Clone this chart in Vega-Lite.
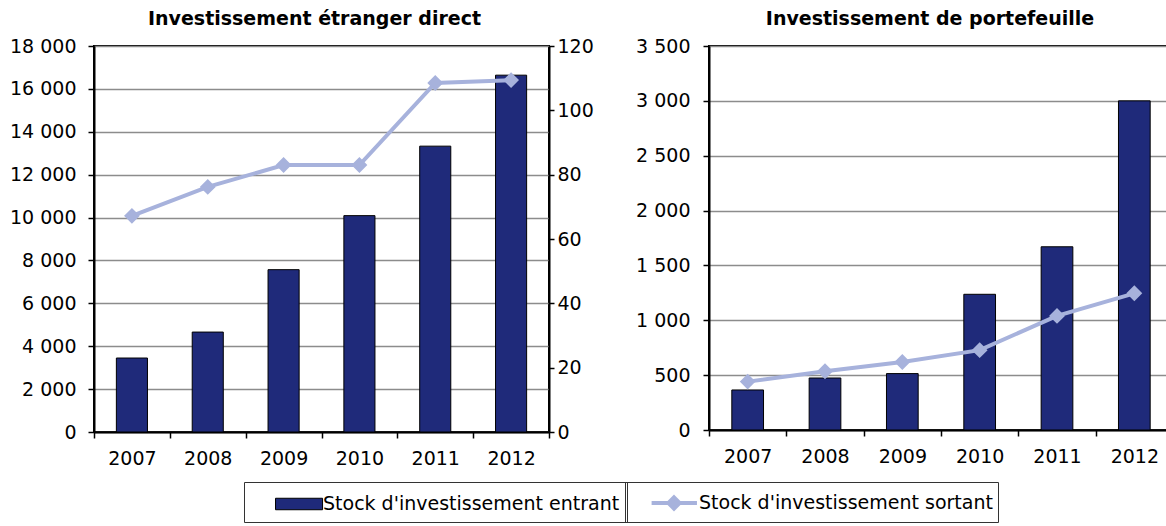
{
  "$schema": "https://vega.github.io/schema/vega-lite/v6.json",
  "padding": {"left": 8, "top": 9, "right": 0, "bottom": 0},
  "background": "white",
  "datasets": {
    "ied": [
      {"annee": "2007", "entrant": 3450, "sortant": 67.2},
      {"annee": "2008", "entrant": 4660, "sortant": 76.2},
      {"annee": "2009", "entrant": 7570, "sortant": 83.0},
      {"annee": "2010", "entrant": 10090, "sortant": 83.0},
      {"annee": "2011", "entrant": 13330, "sortant": 108.5},
      {"annee": "2012", "entrant": 16640, "sortant": 109.4}
    ],
    "portefeuille": [
      {"annee": "2007", "entrant": 365, "sortant": 441},
      {"annee": "2008", "entrant": 474, "sortant": 536},
      {"annee": "2009", "entrant": 514, "sortant": 620},
      {"annee": "2010", "entrant": 1237, "sortant": 728},
      {"annee": "2011", "entrant": 1670, "sortant": 1040},
      {"annee": "2012", "entrant": 3000, "sortant": 1246}
    ]
  },
  "spacing": 39,
  "hconcat": [
    {
      "width": 455,
      "height": 386,
      "title": {"text": "Investissement étranger direct", "offset": 8, "dx": -7},
      "data": {"name": "ied"},
      "layer": [
        {
          "mark": {"type": "bar", "stroke": "black", "strokeWidth": 1, "width": {"band": 0.41}},
          "encoding": {
            "x": {"field": "annee", "type": "ordinal", "scale": {"paddingInner": 0, "paddingOuter": 0},
                  "axis": {"title": null, "labelAngle": 0, "tickBand": "extent", "tickSize": 6, "labelPadding": 11, "grid": false}},
            "y": {"field": "entrant", "type": "quantitative", "scale": {"domain": [0, 18000], "nice": false},
                  "axis": {"title": null, "values": [0, 2000, 4000, 6000, 8000, 10000, 12000, 14000, 16000, 18000], "format": ",d", "tickSize": 6, "labelPadding": 12, "grid": true}},
            "fill": {"datum": "Stock d'investissement entrant", "type": "nominal",
                     "scale": {"domain": ["Stock d'investissement entrant"], "range": ["#1F2A7A"]},
                     "legend": {
                       "orient": "none", "legendX": 150, "legendY": 436, "title": null,
                       "strokeColor": "#333333", "padding": 7.5, "labelFontSize": 19, "labelFont": "DejaVu Sans",
                       "labelColor": "black", "labelOffset": 42.5, "labelLimit": 500, "symbolSize": 784,
                       "symbolType": "M0.68,-0.41H4.04V0.41H0.68Z", "symbolStrokeColor": "#000000", "symbolStrokeWidth": 1, "symbolOpacity": 1
                     }}
          }
        },
        {
          "mark": {"type": "line", "strokeWidth": 4, "point": {"shape": "diamond", "size": 170, "filled": true, "fill": "#A7B2DC"}},
          "encoding": {
            "x": {"field": "annee", "type": "ordinal",
                  "axis": {"title": null, "labelAngle": 0, "tickBand": "extent", "tickSize": 6, "labelPadding": 11, "grid": false}},
            "y": {"field": "sortant", "type": "quantitative", "scale": {"domain": [0, 120], "nice": false},
                  "axis": {"title": null, "orient": "right", "values": [0, 20, 40, 60, 80, 100, 120], "tickSize": 5, "labelPadding": 3, "grid": false}},
            "stroke": {"datum": "Stock d'investissement sortant", "type": "nominal",
                       "scale": {"domain": ["Stock d'investissement sortant"], "range": ["#A7B2DC"]},
                       "legend": {
                         "orient": "none", "legendX": 531, "legendY": 436, "title": null,
                         "strokeColor": "#333333", "padding": 5, "labelFontSize": 19, "labelFont": "DejaVu Sans",
                         "labelColor": "black", "labelOffset": 37, "labelLimit": 500, "symbolSize": 784,
                         "symbolType": "M0.4,0H3.64M2.0,-0.4L2.4,0L2.0,0.4L1.6,0Z", "symbolStrokeWidth": 4, "symbolOpacity": 1,
                         "symbolFillColor": "#A7B2DC"
                       }}
          }
        }
      ],
      "resolve": {"scale": {"y": "independent"}}
    },
    {
      "width": 464,
      "height": 384,
      "title": {"text": "Investissement de portefeuille", "offset": 8, "dx": -11},
      "data": {"name": "portefeuille"},
      "layer": [
        {
          "mark": {"type": "bar", "stroke": "black", "strokeWidth": 1, "width": {"band": 0.41}},
          "encoding": {
            "x": {"field": "annee", "type": "ordinal", "scale": {"paddingInner": 0, "paddingOuter": 0},
                  "axis": {"title": null, "labelAngle": 0, "tickBand": "extent", "tickSize": 6, "labelPadding": 11, "grid": false}},
            "y": {"field": "entrant", "type": "quantitative", "scale": {"domain": [0, 3500], "nice": false},
                  "axis": {"title": null, "values": [0, 500, 1000, 1500, 2000, 2500, 3000, 3500], "format": ",d", "tickSize": 6, "labelPadding": 13, "grid": true}},
            "fill": {"datum": "Stock d'investissement entrant", "type": "nominal",
                     "scale": {"domain": ["Stock d'investissement entrant"], "range": ["#1F2A7A"]}}
          }
        },
        {
          "mark": {"type": "line", "strokeWidth": 4, "point": {"shape": "diamond", "size": 170, "filled": true, "fill": "#A7B2DC"}},
          "encoding": {
            "x": {"field": "annee", "type": "ordinal",
                  "axis": {"title": null, "labelAngle": 0, "tickBand": "extent", "tickSize": 6, "labelPadding": 11, "grid": false}},
            "y": {"field": "sortant", "type": "quantitative"},
            "stroke": {"datum": "Stock d'investissement sortant", "type": "nominal",
                       "scale": {"domain": ["Stock d'investissement sortant"], "range": ["#A7B2DC"]}}
          }
        }
      ]
    }
  ],
  "config": {
    "locale": {"number": {"decimal": ",", "thousands": " ", "grouping": [3], "currency": ["", " €"]}},
    "font": "DejaVu Sans",
    "view": {"stroke": "black", "strokeWidth": 2},
    "title": {"font": "DejaVu Sans", "fontSize": 19, "fontWeight": "bold", "color": "black", "anchor": "middle", "frame": "group"},
    "axis": {
      "labelFont": "DejaVu Sans", "labelFontSize": 19, "labelColor": "black",
      "domainColor": "black", "domainWidth": 2, "tickColor": "black", "tickWidth": 1.5,
      "gridColor": "#8c8c8c", "gridWidth": 1.5
    }
  }
}
